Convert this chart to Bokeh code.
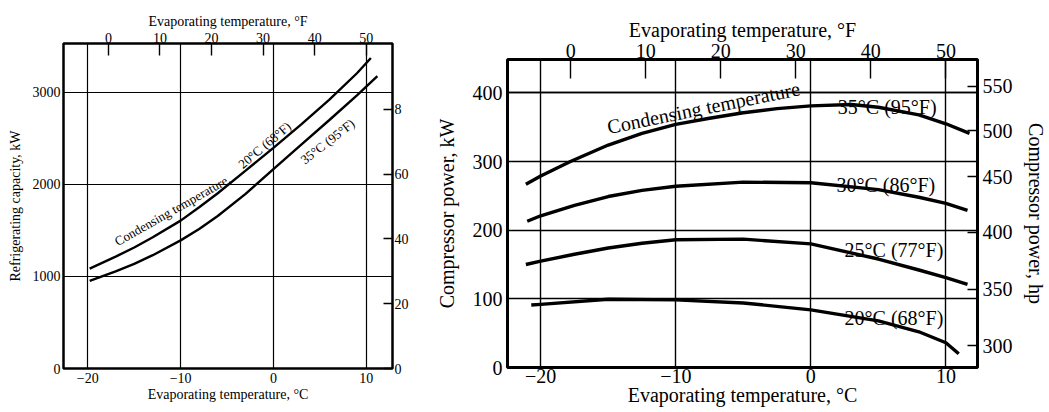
from bokeh.plotting import figure
from bokeh.layouts import row
from bokeh.models import Range1d, LinearAxis, FixedTicker, Grid, Label
from bokeh.embed import file_html
from bokeh.resources import INLINE

SERIF = "Liberation Serif"

# ---------------- Left panel: refrigerating capacity ----------------
cap_c_ticks = [-20, -10, 0, 10]
cap_kw_ticks = [0, 1000, 2000, 3000]
f_ticks = [0, 10, 20, 30, 40, 50]
tons_ticks = [0, 200, 400, 600, 800]
tons_labels = ["0", "20", "40", "60", "8"]

cap_t_20 = [-19.8, -17, -15, -13, -10, -8, -6, -3, 0, 3, 6, 9, 10.5]
cap_kw_20 = [1085, 1214, 1314, 1424, 1605, 1750, 1902, 2148, 2395, 2650, 2915, 3205, 3370]
cap_t_35 = [-19.8, -17, -15, -13, -10, -8, -6, -3, 0, 3, 6, 9, 11.2]
cap_kw_35 = [950, 1055, 1135, 1230, 1391, 1515, 1655, 1895, 2165, 2430, 2695, 2965, 3175]

# ---------------- Right panel: compressor power ----------------
pow_c_ticks = [-20, -10, 0, 10]
pow_kw_ticks = [0, 100, 200, 300, 400]
hp_labels = ["300", "350", "400", "450", "500", "550"]
hp_at_kw = [32, 114, 197, 278, 345, 410]

pow_t_35 = [-21.1, -20, -17.8, -15, -12.5, -10, -7.5, -5, -2.5, 0, 3, 5, 8, 10, 11.75]
pow_kw_35 = [267, 279, 300, 324, 341, 354, 363, 371, 377, 381, 383, 379, 368, 355, 341]
pow_t_30 = [-21.0, -20, -17.5, -15, -12.5, -10, -5, 0, 5, 8, 10, 11.6]
pow_kw_30 = [213, 221, 236, 249, 258, 264, 270, 269, 259, 248, 239, 229]
pow_t_25 = [-21.1, -20, -17.5, -15, -12.5, -10, -5, 0, 5, 8, 10, 11.6]
pow_kw_25 = [150, 155, 165, 174, 181, 186, 187, 180, 158, 142, 131, 121]
pow_t_20 = [-20.7, -20, -15, -10, -5, 0, 5, 8, 10, 10.95]
pow_kw_20 = [91, 92, 99.5, 98.5, 94, 84, 68, 52, 36, 20]


def c_to_f(c):
    return c * 1.8 + 32


KW_PER_TON = 3.5168


def style_axis(ax, size, tick_in=0):
    ax.axis_line_color = None
    ax.major_tick_in = tick_in
    ax.major_tick_out = 0
    ax.minor_tick_line_color = None
    ax.major_tick_line_color = "black"
    ax.major_tick_line_width = 1.4
    ax.major_label_text_font = SERIF
    ax.major_label_text_font_size = size
    ax.major_label_text_color = "black"
    ax.axis_label_text_font = SERIF
    ax.axis_label_text_font_size = size
    ax.axis_label_text_font_style = "normal"
    ax.axis_label_text_color = "black"


# ---------------- build left figure ----------------
lx0, lx1 = -22.62, 12.83
ly1 = 3528
p1 = figure(width=420, height=412, x_range=Range1d(lx0, lx1), y_range=Range1d(0, ly1),
            output_backend="svg", toolbar_location=None, frame_align=False,
            min_border_left=63, min_border_right=28, min_border_top=43, min_border_bottom=44)
p1.background_fill_color = "white"
p1.border_fill_color = "white"
p1.outline_line_color = "black"
p1.outline_line_width = 2.5

p1.xaxis.ticker = FixedTicker(ticks=cap_c_ticks)
p1.yaxis.ticker = FixedTicker(ticks=cap_kw_ticks)
p1.xaxis.axis_label = "Evaporating temperature, °C"
p1.yaxis.axis_label = "Refrigerating capacity, kW"
for ax in p1.xaxis + p1.yaxis:
    style_axis(ax, "14px")
    ax.major_label_standoff = 4
    ax.axis_label_standoff = 1
p1.yaxis.major_label_standoff = 3
p1.yaxis.axis_label_standoff = 7

p1.xgrid.ticker = FixedTicker(ticks=cap_c_ticks)
p1.ygrid.ticker = FixedTicker(ticks=cap_kw_ticks[1:])
for g in (p1.xgrid, p1.ygrid):
    g.grid_line_color = "black"
    g.grid_line_width = 1.2
    g.grid_line_alpha = 1.0

p1.extra_x_ranges = {"F": Range1d(c_to_f(lx0), c_to_f(lx1))}
topF1 = LinearAxis(x_range_name="F", ticker=FixedTicker(ticks=f_ticks),
                   axis_label="Evaporating temperature, °F")
style_axis(topF1, "14px", tick_in=12)
topF1.major_label_standoff = 1
topF1.axis_label_standoff = 1
p1.add_layout(topF1, "above")

p1.extra_y_ranges = {"tons": Range1d(0, ly1 / KW_PER_TON)}
rightT = LinearAxis(y_range_name="tons", ticker=FixedTicker(ticks=tons_ticks),
                    major_label_overrides={t: l for t, l in zip(tons_ticks, tons_labels)})
style_axis(rightT, "14px", tick_in=9)
rightT.major_label_standoff = 2
p1.add_layout(rightT, "right")

p1.line(cap_t_20, cap_kw_20, line_color="black", line_width=2.4)
p1.line(cap_t_35, cap_kw_35, line_color="black", line_width=2.4)

for txt, x, y, ang in [("Condensing temperature,", -17.0, 1370, 0.515),
                       ("20°C (68°F)", -3.6, 2200, 0.70),
                       ("35°C (95°F)", 3.1, 2250, 0.66)]:
    p1.add_layout(Label(x=x, y=y, text=txt, angle=ang, text_font=SERIF,
                        text_font_size="13px", text_color="black",
                        text_align="left", text_baseline="alphabetic"))

# ---------------- build right figure ----------------
rx0, rx1 = -22.46, 12.34
ry1 = 448.6
p2 = figure(width=629, height=412, x_range=Range1d(rx0, rx1), y_range=Range1d(0, ry1),
            output_backend="svg", toolbar_location=None, frame_align=False,
            min_border_left=87, min_border_right=66, min_border_top=59, min_border_bottom=45)
p2.background_fill_color = "white"
p2.border_fill_color = "white"
p2.outline_line_color = "black"
p2.outline_line_width = 3

p2.xaxis.ticker = FixedTicker(ticks=pow_c_ticks)
p2.yaxis.ticker = FixedTicker(ticks=pow_kw_ticks)
p2.xaxis.axis_label = "Evaporating temperature, °C"
p2.yaxis.axis_label = "Compressor power, kW"
for ax in p2.xaxis + p2.yaxis:
    style_axis(ax, "20px")
    ax.major_label_standoff = 5
    ax.axis_label_standoff = 12
p2.xaxis.major_label_standoff = 1
p2.xaxis.axis_label_standoff = -2

p2.xgrid.ticker = FixedTicker(ticks=pow_c_ticks)
p2.ygrid.ticker = FixedTicker(ticks=pow_kw_ticks[1:4])
g400a = Grid(dimension=1, ticker=FixedTicker(ticks=[pow_kw_ticks[4]]), bounds=(rx0, -9.0))
g400b = Grid(dimension=1, ticker=FixedTicker(ticks=[pow_kw_ticks[4]]), bounds=(9.4, rx1))
p2.add_layout(g400a)
p2.add_layout(g400b)
for g in list(p2.xgrid) + list(p2.ygrid) + [g400a, g400b]:
    g.grid_line_color = "black"
    g.grid_line_width = 1.4
    g.grid_line_alpha = 1.0

p2.extra_x_ranges = {"F": Range1d(c_to_f(rx0), c_to_f(rx1))}
topF2 = LinearAxis(x_range_name="F", ticker=FixedTicker(ticks=f_ticks),
                   axis_label="Evaporating temperature, °F")
style_axis(topF2, "20px", tick_in=19)
topF2.major_label_standoff = 2
topF2.axis_label_standoff = 0
p2.add_layout(topF2, "above")

rightHP = LinearAxis(ticker=FixedTicker(ticks=hp_at_kw),
                     major_label_overrides={k: l for k, l in zip(hp_at_kw, hp_labels)},
                     axis_label="Compressor power, hp")
style_axis(rightHP, "20px", tick_in=10)
rightHP.major_label_standoff = 5
rightHP.axis_label_standoff = 9
p2.add_layout(rightHP, "right")

for t, kw in [(pow_t_35, pow_kw_35), (pow_t_30, pow_kw_30),
              (pow_t_25, pow_kw_25), (pow_t_20, pow_kw_20)]:
    p2.line(t, kw, line_color="black", line_width=3.4, line_join="round")

for txt, x, y, ang in [("Condensing temperature", -15.06, 350, 0.20),
                       ("35°C (95°F)", 2.0, 380, 0.0),
                       ("30°C (86°F)", 1.9, 266, 0.0),
                       ("25°C (77°F)", 2.5, 171, 0.0),
                       ("20°C (68°F)", 2.5, 71.4, 0.0)]:
    p2.add_layout(Label(x=x, y=y, text=txt, angle=ang, text_font=SERIF,
                        text_font_size="20px", text_color="black",
                        text_align="left", text_baseline="alphabetic"))

layout = row(p1, p2)
open("out.html", "w").write(file_html(layout, INLINE))
